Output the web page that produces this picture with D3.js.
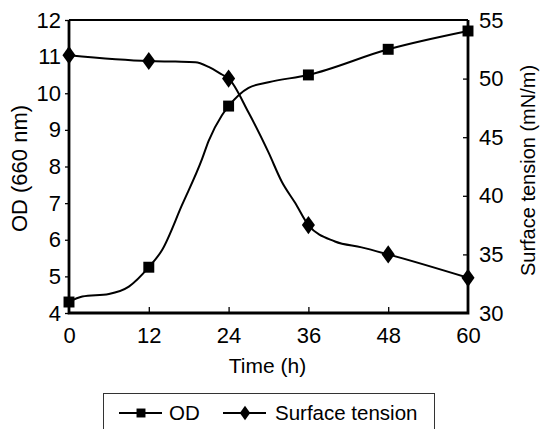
<!DOCTYPE html>
<head>
    <meta charset="utf-8">
    <title>OD and surface tension</title>
    <style>
        body { margin: 0; background: #fff; }
        text { font-family: "Liberation Sans", Arial, sans-serif; fill: #000; }
    </style>
</head>

<body>

<svg width="545" height="429"></svg>

<script src="https://cdn.jsdelivr.net/npm/d3@7"></script>

<script>
    // sampled hours with markers
    const hours = [0, 12, 24, 36, 48, 60];
    const od = [4.3, 5.25, 9.65, 10.5, 11.2, 11.7];
    const tension = [52, 51.5, 50, 37.5, 35, 33];

    // the drawn curves
    const odCurveHours = [0, 2, 6, 9, 12, 14, 17, 20, 21, 23, 24, 27, 30, 36, 48, 60];
    const odCurve = [4.3, 4.45, 4.52, 4.72, 5.25, 5.72, 6.95, 8.2, 8.7, 9.4, 9.65, 10.15, 10.3, 10.5, 11.2, 11.7];
    const tensionCurveHours = [0, 12, 16, 19, 21, 23, 24, 27, 30, 32, 34, 36, 40, 44, 48, 60];
    const tensionCurve = [52, 51.5, 51.45, 51.4, 51.0, 50.35, 50, 47.1, 43.7, 41.2, 39.4, 37.5, 36.1, 35.6, 35, 33];

    const xTicks = [0, 12, 24, 36, 48, 60];
    const yLeftTicks = [4, 5, 6, 7, 8, 9, 10, 11, 12];
    const yRightTicks = [30, 35, 40, 45, 50, 55];

    const svg = d3.select("svg");
    const margin = { top: 20, right: 77, bottom: 116, left: 69 };
    const width = svg.attr("width") - margin.left - margin.right;
    const height = svg.attr("height") - margin.top - margin.bottom;

    const x = d3.scaleLinear().domain([0, 60]).range([0, width]);
    const yL = d3.scaleLinear().domain([4, 12]).range([height, 0]);
    const yR = d3.scaleLinear().domain([30, 55]).range([height, 0]);

    const g = svg.append("g")
        .attr("transform", `translate(${margin.left},${margin.top})`);

    // axes
    const axL = g.append("g").call(d3.axisLeft(yL).tickValues(yLeftTicks).tickSize(4).tickPadding(4));
    const axB = g.append("g").attr("transform", `translate(0,${height})`)
        .call(d3.axisBottom(x).tickValues(xTicks).tickSize(-6).tickPadding(14));
    const axR = g.append("g").attr("transform", `translate(${width},0)`)
        .call(d3.axisRight(yR).tickValues(yRightTicks).tickSize(-5).tickPadding(11));

    [axL, axB, axR].forEach(a => {
        a.select(".domain").remove();
        a.selectAll(".tick line").attr("stroke", "#000").attr("stroke-width", 1.3);
        a.selectAll(".tick text").style("font-size", "22px").attr("fill", "#000");
    });
    axB.selectAll(".tick line").filter(d => d === 0 || d === 60).remove();
    axR.selectAll(".tick line").filter(d => d === 30 || d === 55).remove();

    // frame: heavier axes, lighter top edge
    g.append("line").attr("x1", 0).attr("x2", width).attr("y1", 0).attr("y2", 0)
        .attr("stroke", "#000").attr("stroke-width", 2);
    g.append("path")
        .attr("d", `M0,0V${height}H${width}V0`)
        .attr("fill", "none").attr("stroke", "#000").attr("stroke-width", 2.8);

    // curves
    const odLine = d3.line().x((d, i) => x(odCurveHours[i])).y(d => yL(d)).curve(d3.curveMonotoneX);
    const tLine = d3.line().x((d, i) => x(tensionCurveHours[i])).y(d => yR(d)).curve(d3.curveMonotoneX);

    g.append("path").attr("d", odLine(odCurve))
        .attr("fill", "none").attr("stroke", "#000").attr("stroke-width", 2);
    g.append("path").attr("d", tLine(tensionCurve))
        .attr("fill", "none").attr("stroke", "#000").attr("stroke-width", 2);

    const square = d3.symbol().type(d3.symbolSquare).size(120);
    const diamond = d3.symbol().type(d3.symbolDiamond).size(95);

    g.selectAll(".sq").data(od).join("path")
        .attr("class", "sq")
        .attr("d", square)
        .attr("transform", (d, i) => `translate(${x(hours[i])},${yL(d)})`)
        .attr("fill", "#000");

    g.selectAll(".dm").data(tension).join("path")
        .attr("class", "dm")
        .attr("d", diamond)
        .attr("transform", (d, i) => `translate(${x(hours[i])},${yR(d)}) scale(1.25,1)`)
        .attr("fill", "#000");

    // axis titles
    svg.append("text")
        .attr("x", margin.left + width / 2 - 1).attr("y", 373)
        .attr("text-anchor", "middle").style("font-size", "21px")
        .text("Time (h)");

    svg.append("text")
        .attr("transform", `translate(27,${margin.top + height / 2 + 2}) rotate(-90)`)
        .attr("text-anchor", "middle").style("font-size", "22px")
        .text("OD (660 nm)");

    svg.append("text")
        .attr("transform", `translate(535,${margin.top + height / 2 + 4}) rotate(-90)`)
        .attr("text-anchor", "middle").style("font-size", "20px")
        .text("Surface tension (mN/m)");

    // legend
    const leg = svg.append("g");
    leg.append("rect")
        .attr("x", 103.5).attr("y", 393.5).attr("width", 331).attr("height", 50)
        .attr("fill", "none").attr("stroke", "#333").attr("stroke-width", 1);

    const legY = 413;
    leg.append("line").attr("x1", 119).attr("x2", 162).attr("y1", legY).attr("y2", legY)
        .attr("stroke", "#000").attr("stroke-width", 2);
    leg.append("path").attr("d", d3.symbol().type(d3.symbolSquare).size(80))
        .attr("transform", `translate(141,${legY})`).attr("fill", "#000");
    leg.append("text").attr("x", 169).attr("y", legY + 7).style("font-size", "20.5px").text("OD");

    leg.append("line").attr("x1", 223).attr("x2", 266).attr("y1", legY).attr("y2", legY)
        .attr("stroke", "#000").attr("stroke-width", 2);
    leg.append("path").attr("d", d3.symbol().type(d3.symbolDiamond).size(60))
        .attr("transform", `translate(245,${legY}) scale(1.25,1)`).attr("fill", "#000");
    leg.append("text").attr("x", 275).attr("y", legY + 7).style("font-size", "20.5px").text("Surface tension");

</script>

</body>
